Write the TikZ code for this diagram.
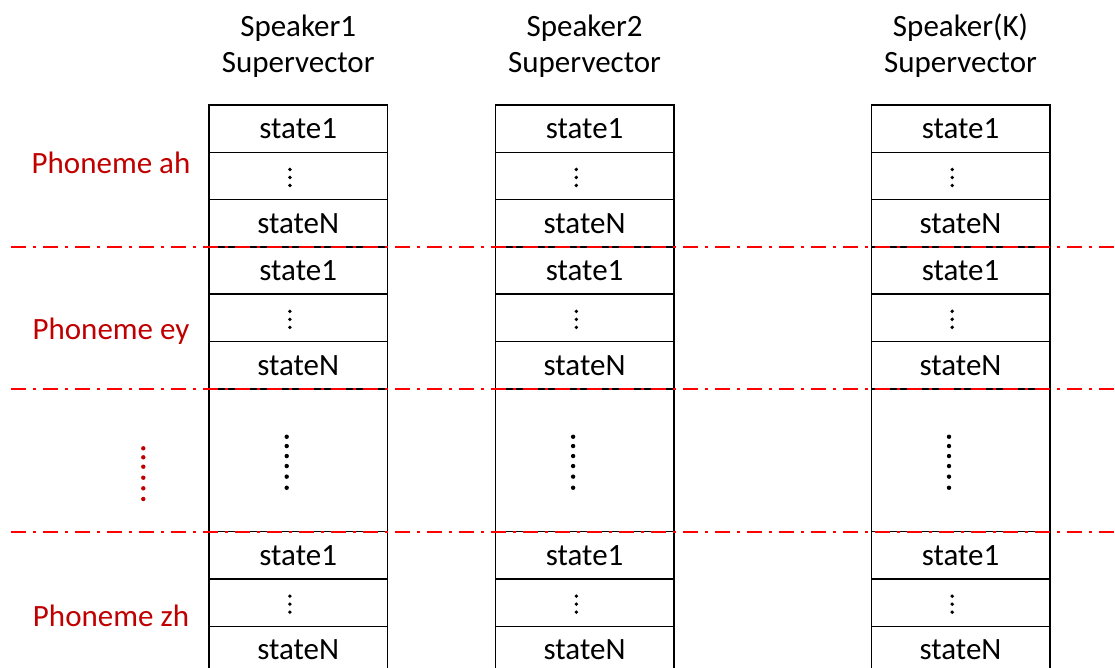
\documentclass[tikz,border=0pt]{standalone}
\usepackage{fontspec}
\setmainfont{Carlito}
\usetikzlibrary{calc}
\definecolor{darkred}{HTML}{C00000}
\definecolor{sepred}{HTML}{FF0000}
\tikzset{
  txt/.style={font=\fontsize{31}{37}\selectfont, inner sep=0pt, anchor=base},
  cell/.style={draw, line width=1.5pt, minimum width=178.5pt, minimum height=47.3pt,
    inner sep=0pt, text height=20pt, text depth=0pt,
    font=\fontsize{31}{37}\selectfont},
  phon/.style={txt, text=darkred},
  sep/.style={draw=sepred, line width=1.6pt, dash pattern=on 15pt off 7pt on 3pt off 7pt},
}
\begin{document}
\begin{tikzpicture}[x=1pt,y=-1pt]
\useasboundingbox (0,0) rectangle (1115,668);
\clip (0,0) rectangle (1115,668);

% one supervector column per speaker
\foreach \i/\x/\hd in {1/298.2/Speaker1, 2/584.6/Speaker2, 3/960.5/Speaker(K)}{
  \node[txt] (h\i a) at (\x,37) {\hd};
  \node[txt] (h\i b) at (\x,73) {Supervector};
  \node[cell] (c\i-1) at (\x,128.65) {state1};
  \node[cell] (c\i-2) at (\x,175.95) {};
  \node[cell] (c\i-3) at (\x,223.25) {stateN};
  \node[cell] (c\i-4) at (\x,270.55) {state1};
  \node[cell] (c\i-5) at (\x,317.85) {};
  \node[cell] (c\i-6) at (\x,365.15) {stateN};
  \node[cell, minimum height=142.9pt] (c\i-7) at (\x,460.25) {};
  \node[cell] (c\i-8) at (\x,555.35) {state1};
  \node[cell] (c\i-9) at (\x,602.65) {};
  \node[cell] (c\i-10) at (\x,649.95) {stateN};
  % small vertical ellipses between the states
  \foreach \r in {2,5,9}
    \foreach \dy in {-6.5,1.5,9.5}
      \fill ($(c\i-\r.center)+(-8.3,\dy)$) circle[radius=1.9pt];
  % long ellipsis for the omitted phonemes
  \foreach \dy in {-23.5,-14.2,-4.2,5.8,16.4,27.5}
    \fill ($(c\i-7.center)+(-11.5,\dy)$) circle[radius=2.2pt];
}

% phoneme labels
\node[phon] (pah) at (111,174) {Phoneme ah};
\node[phon] (pey) at (111,339) {Phoneme ey};
\node[phon] (pzh) at (111,626) {Phoneme zh};
\foreach \y in {448.3,457.3,466.7,477.7,488.3,499}
  \fill[darkred] (143.3,\y) circle[radius=2.2pt];

% phoneme boundaries
\coordinate (sa) at (11,246.9);
\coordinate (sb) at (11,388.8);
\coordinate (sc) at (11,531.7);
\coordinate (ea) at (1115,246.9);
\coordinate (eb) at (1115,388.8);
\coordinate (ec) at (1115,531.7);
\draw[sep] (sa) -- (ea);
\draw[sep] (sb) -- (eb);
\draw[sep] (sc) -- (ec);
\end{tikzpicture}
\end{document}
